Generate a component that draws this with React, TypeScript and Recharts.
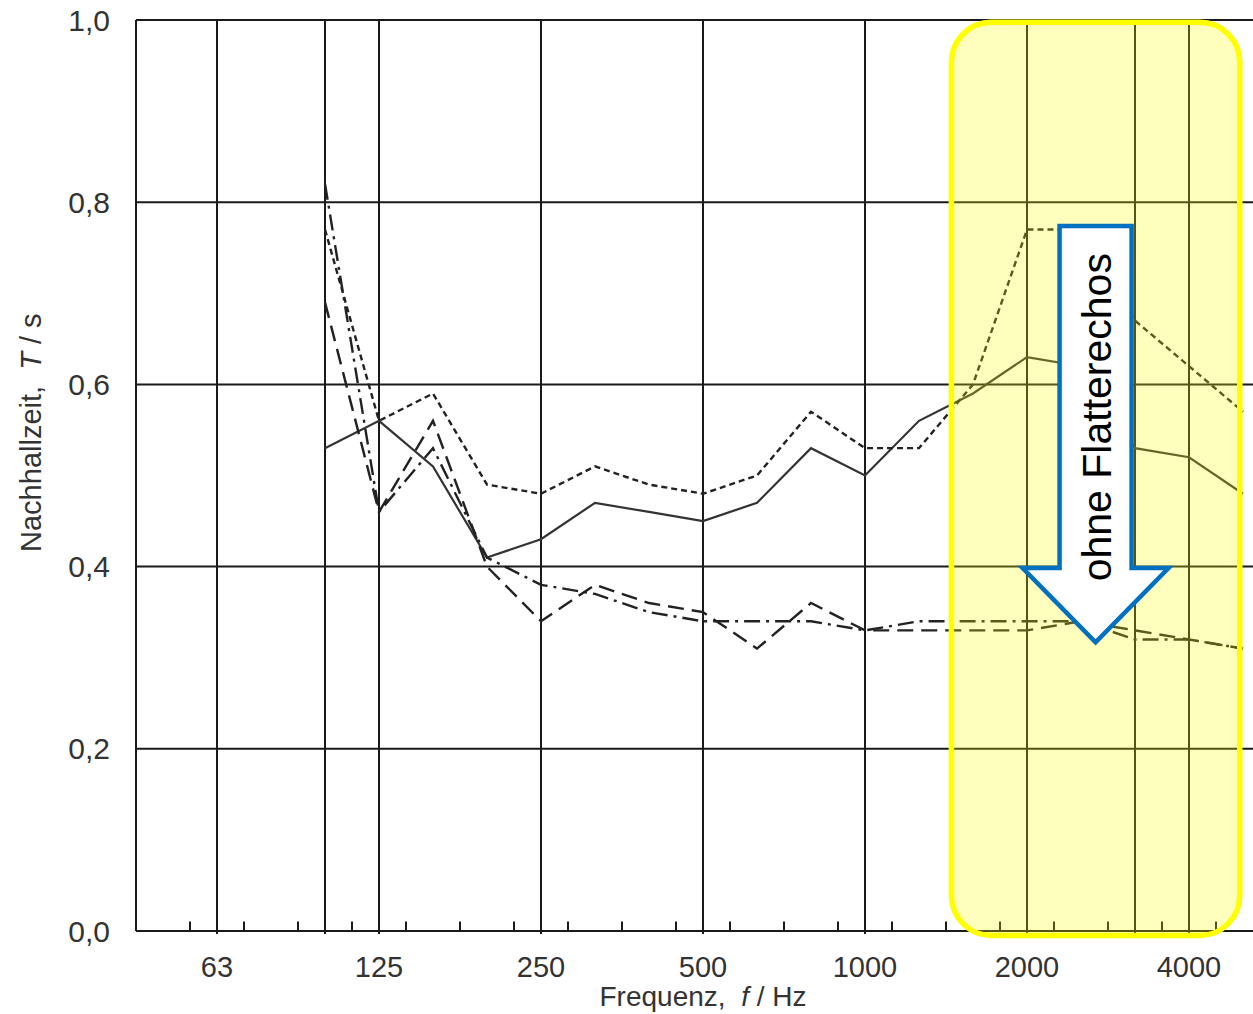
import {
  LineChart,
  Line,
  XAxis,
  YAxis,
  CartesianGrid,
  ReferenceLine,
  ReferenceArea,
} from 'recharts';

// third-octave centre frequencies, Hz
const freqs = [100, 125, 160, 200, 250, 315, 400, 500, 630, 800, 1000, 1250, 1600, 2000, 2500, 3150, 4000, 5000];

// Nachhallzeit T / s
const solidT = [0.53, 0.56, 0.51, 0.41, 0.43, 0.47, 0.46, 0.45, 0.47, 0.53, 0.5, 0.56, 0.59, 0.63, 0.62, 0.53, 0.52, 0.48];
const shortDashT = [0.77, 0.56, 0.59, 0.49, 0.48, 0.51, 0.49, 0.48, 0.5, 0.57, 0.53, 0.53, 0.6, 0.77, 0.77, 0.67, 0.62, 0.57];
const longDashT = [0.69, 0.46, 0.56, 0.4, 0.34, 0.38, 0.36, 0.35, 0.31, 0.36, 0.33, 0.33, 0.33, 0.33, 0.34, 0.33, 0.32, 0.31];
const dashDotT = [0.82, 0.46, 0.53, 0.41, 0.38, 0.37, 0.35, 0.34, 0.34, 0.34, 0.33, 0.34, 0.34, 0.34, 0.34, 0.32, 0.32, 0.31];

const gridFreqs = [63, 100, 125, 250, 500, 1000, 2000, 3150, 4000];
const labelFreqs = [63, 125, 250, 500, 1000, 2000, 4000];
const labelTexts = ['63', '125', '250', '500', '1000', '2000', '4000'];
const yTicks = [0, 0.2, 0.4, 0.6, 0.8, 1.0];

// band number: 1000 Hz -> 30, one step per third octave
const band = (f: number) => Math.round(10 * Math.log10(f));

const data = freqs.map((f, i) => ({
  band: band(f),
  solid: solidT[i],
  shortDash: shortDashT[i],
  longDash: longDashT[i],
  dashDot: dashDotT[i],
}));

const gridBands = gridFreqs.map(band);
const labelByBand: Record<number, string> = {};
labelFreqs.forEach((f, i) => {
  labelByBand[band(f)] = labelTexts[i];
});
// small inward ticks on the band edges
const minorBands: number[] = [];
for (let b = 17; b <= 36; b++) minorBands.push(b + 0.5);

// highlighted region (band units / seconds)
const HL_X1 = 31.6;
const HL_X2 = 36.94;
const HL_TOP = 0.9975;
const HL_BOTTOM = -0.005;

const INK = '#1a1a1a';
const TEXT = '#333';
const FONT = '"Liberation Sans", Arial, sans-serif';

function Highlight(props: any) {
  const { x, y, width, height } = props;
  const cx = x + width / 2;
  const sy = (v: number) => y + (height * (HL_TOP - v)) / (HL_TOP - HL_BOTTOM);
  const top = sy(0.774);
  const neck = sy(0.3985);
  const tip = sy(0.317);
  const shaft = 36;
  const head = 73;
  const arrow = [
    [cx - shaft, top],
    [cx + shaft, top],
    [cx + shaft, neck],
    [cx + head, neck],
    [cx, tip],
    [cx - head, neck],
    [cx - shaft, neck],
  ]
    .map((p) => p.join(','))
    .join(' ');
  const ty = sy(0.564);
  return (
    <g>
      <rect
        x={x}
        y={y}
        width={width}
        height={height}
        rx={40}
        ry={40}
        fill="rgba(255,255,0,0.26)"
        stroke="#ffff00"
        strokeWidth={5.5}
      />
      <polygon points={arrow} fill="#fff" stroke="#0070c0" strokeWidth={4.5} strokeLinejoin="miter" />
      <text
        x={cx + 15}
        y={ty}
        transform={`rotate(-90 ${cx + 15} ${ty})`}
        textAnchor="middle"
        fontSize={41}
        fill="#000"
        fontFamily={FONT}
      >
        ohne Flatterechos
      </text>
    </g>
  );
}

function YTitle(props: any) {
  const { viewBox } = props;
  const cy = viewBox.y + viewBox.height * 0.453;
  const cx = 41;
  return (
    <text
      x={cx}
      y={cy}
      transform={`rotate(-90 ${cx} ${cy})`}
      textAnchor="middle"
      fontSize={29}
      fill={TEXT}
      style={{ whiteSpace: 'pre' }}
    >
      <tspan>Nachhallzeit,  </tspan>
      <tspan fontStyle="italic">T</tspan>
      <tspan> / s</tspan>
    </text>
  );
}

function XTitle(props: any) {
  const { viewBox } = props;
  const cx = viewBox.x + viewBox.width / 2;
  return (
    <text x={cx} y={1006} textAnchor="middle" fontSize={28} fill={TEXT} style={{ whiteSpace: 'pre' }}>
      <tspan>Frequenz,  </tspan>
      <tspan fontStyle="italic">f</tspan>
      <tspan> / Hz</tspan>
    </text>
  );
}

export default function App() {
  return (
    <div
      style={{
        position: 'absolute',
        left: 0,
        top: 0,
        width: 1253,
        height: 1014,
        overflow: 'hidden',
        background: '#fff',
        fontFamily: FONT,
      }}
    >
      <LineChart width={1270} height={1014} data={data} margin={{ top: 20, right: 0, bottom: 0, left: 0 }}>
        <CartesianGrid stroke={INK} strokeWidth={2} horizontalValues={yTicks} verticalValues={gridBands} />
        <XAxis
          dataKey="band"
          type="number"
          domain={[16.5, 37.5]}
          ticks={gridBands}
          allowDataOverflow
          height={83}
          tickFormatter={(b: number) => labelByBand[b] ?? ''}
          tick={{ fontSize: 29, fill: TEXT }}
          tickSize={3}
          tickMargin={22}
          tickLine={{ stroke: INK, strokeWidth: 2 }}
          axisLine={{ stroke: INK, strokeWidth: 2 }}
          label={<XTitle />}
        />
        <YAxis
          type="number"
          domain={[0, 1]}
          ticks={yTicks}
          width={136}
          tickFormatter={(v: number) => v.toFixed(1).replace('.', ',')}
          tick={{ fontSize: 30, fill: TEXT }}
          tickLine={false}
          tickSize={0}
          tickMargin={26}
          axisLine={{ stroke: INK, strokeWidth: 2 }}
          label={<YTitle />}
        />
        {minorBands.map((b) => (
          <ReferenceLine
            key={b}
            segment={[
              { x: b, y: 0 },
              { x: b, y: 0.0105 },
            ]}
            stroke={INK}
            strokeWidth={2}
          />
        ))}
        <Line type="linear" dataKey="solid" stroke="#333" strokeWidth={2.2} dot={false} isAnimationActive={false} />
        <Line
          type="linear"
          dataKey="shortDash"
          stroke="#222"
          strokeWidth={2.4}
          strokeDasharray="6 4"
          dot={false}
          isAnimationActive={false}
        />
        <Line
          type="linear"
          dataKey="longDash"
          stroke="#222"
          strokeWidth={2.4}
          strokeDasharray="16 8"
          dot={false}
          isAnimationActive={false}
        />
        <Line
          type="linear"
          dataKey="dashDot"
          stroke="#222"
          strokeWidth={2.4}
          strokeDasharray="16 6 3 6"
          dot={false}
          isAnimationActive={false}
        />
        <ReferenceArea
          x1={HL_X1}
          x2={HL_X2}
          y1={HL_BOTTOM}
          y2={HL_TOP}
          ifOverflow="visible"
          zIndex={2000}
          shape={(p: any) => <Highlight {...p} />}
        />
      </LineChart>
    </div>
  );
}
